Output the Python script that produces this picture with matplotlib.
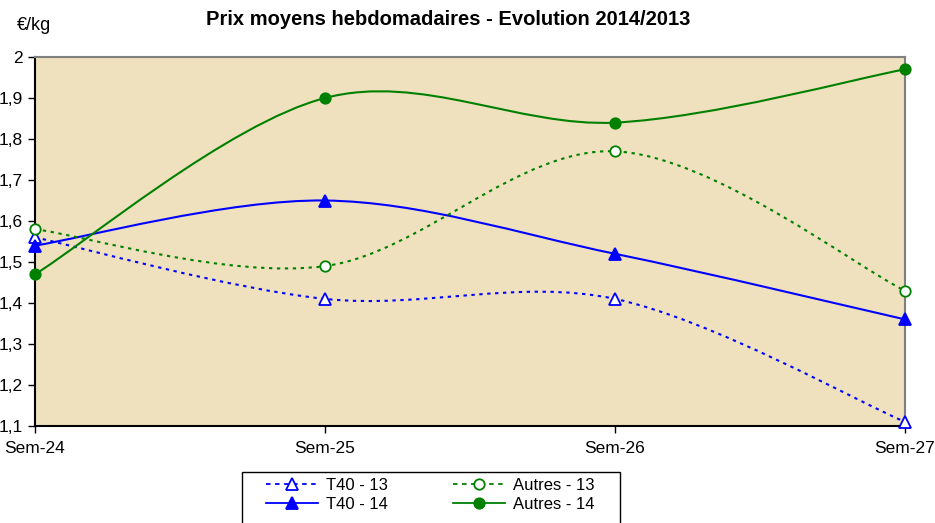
import numpy as np
import matplotlib.pyplot as plt
from matplotlib.path import Path
from matplotlib.patches import PathPatch, Rectangle
from matplotlib.lines import Line2D
from matplotlib.ticker import FuncFormatter

plt.rcParams['font.family'] = ['Liberation Sans', 'DejaVu Sans']

# data
weeks = ["Sem-24", "Sem-25", "Sem-26", "Sem-27"]
t40_13 = [1.56, 1.41, 1.41, 1.11]
t40_14 = [1.54, 1.65, 1.52, 1.36]
autres_13 = [1.58, 1.49, 1.77, 1.43]
autres_14 = [1.47, 1.90, 1.84, 1.97]


def smooth_path(xs, ys):
    # Excel-like smoothed line: cubic bezier with catmull-rom tangents
    pts = np.column_stack([xs, ys]).astype(float)
    n = len(pts)
    verts = [pts[0]]
    codes = [Path.MOVETO]
    for i in range(n - 1):
        p0 = pts[max(i - 1, 0)]
        p1 = pts[i]
        p2 = pts[i + 1]
        p3 = pts[min(i + 2, n - 1)]
        verts += [p1 + (p2 - p0) / 6, p2 - (p3 - p1) / 6, p2]
        codes += [Path.CURVE4] * 3
    return Path(verts, codes)


fig = plt.figure(figsize=(9.35, 5.23), dpi=100)
ax = fig.add_axes([35 / 935, 1 - 426 / 523, 870 / 935, 369 / 523])
ax.set_facecolor('#EFE1BE')

x = np.arange(len(weeks))
dotted = (0, (1.6, 2.2))
series = [
    (t40_13, '#0000FF', dotted, '^', 'white', 'T40 - 13'),
    (t40_14, '#0000FF', '-', '^', '#0000FF', 'T40 - 14'),
    (autres_13, '#008000', dotted, 'o', 'white', 'Autres - 13'),
    (autres_14, '#008000', '-', 'o', '#008000', 'Autres - 14'),
]

handles = {}
for vals, col, ls, mk, mfc, lab in series:
    patch = PathPatch(smooth_path(x, vals), facecolor='none', edgecolor=col,
                      lw=1.5, linestyle=ls, zorder=3)
    ax.add_patch(patch)
    ms = 8.5 if mk == '^' else 7.5
    ax.plot(x, vals, linestyle='none', marker=mk, ms=ms, mfc=mfc, mec=col,
            mew=1.3, zorder=4, clip_on=False)
    leg_ls = (0, (2.5, 2.5)) if ls != '-' else '-'
    handles[lab] = Line2D([], [], color=col, lw=1.3, linestyle=leg_ls, marker=mk,
                          ms=ms, mfc=mfc, mec=col, mew=1.3)

ax.set_xlim(0, 3)
ax.set_ylim(1.1, 2.0)
ax.set_xticks(x)
ax.set_xticklabels(weeks)
ax.set_yticks(np.arange(1.1, 2.01, 0.1))
ax.yaxis.set_major_formatter(FuncFormatter(lambda v, p: f"{v:.1f}".rstrip('0').rstrip('.').replace('.', ',')))
ax.tick_params(axis='both', direction='out', length=5, width=1, labelsize=12.5, colors='black')
ax.tick_params(axis='x', pad=6)
ax.tick_params(axis='y', pad=4)
for s in ['top', 'right']:
    ax.spines[s].set_color('#808080')
    ax.spines[s].set_linewidth(1.5)
for s in ['left', 'bottom']:
    ax.spines[s].set_color('black')
    ax.spines[s].set_linewidth(1.5)

fig.text(0.479, 0.963, "Prix moyens hebdomadaires - Evolution 2014/2013",
         ha='center', va='center', fontsize=14.5, fontweight='bold')
fig.text(0.036, 0.952, "€/kg", ha='center', va='center', fontsize=13)

# legend box (frame drawn separately so the padding matches)
fig.patches.append(Rectangle((242 / 935, -0.02), 378 / 935, 1 - 472 / 523 + 0.02,
                             transform=fig.transFigure, facecolor='white',
                             edgecolor='black', lw=1, zorder=1))
order = ['T40 - 13', 'T40 - 14', 'Autres - 13', 'Autres - 14']
leg = fig.legend([handles[k] for k in order], order, loc='upper left',
                 bbox_to_anchor=(266 / 935, 1 - 478 / 523), ncol=2, fontsize=12,
                 frameon=False, borderaxespad=0, borderpad=0,
                 handlelength=3.1, columnspacing=3.9,
                 handletextpad=0.5, labelspacing=0.22)
leg.set_zorder(2)

fig.savefig('out.png', dpi=100)
